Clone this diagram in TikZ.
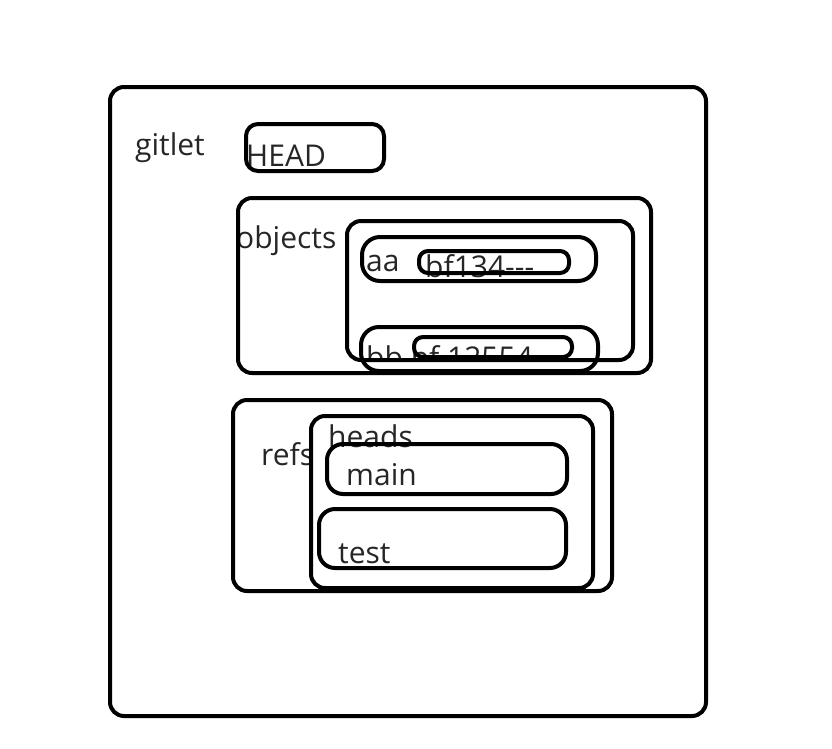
\documentclass[tikz,border=0pt]{standalone}
\usepackage{fontspec}
\setmainfont{Open Sans}
\begin{document}
\begin{tikzpicture}[x=1pt,y=-1pt,
  box/.style={draw=black,line width=4pt,rounded corners=#1,inner sep=0pt},
  box/.default=14pt,
  lbl/.style={anchor=base west,inner sep=0pt,text=black!85,font=\fontsize{30}{36}\selectfont}]
\useasboundingbox (0,0) rectangle (832,748);
% texts
\node[lbl] (tgitlet) at (135,155) {gitlet};
\node[lbl] (thead) at (246,166) {HEAD};
\node[lbl] (tobjects) at (236,248) {objects};
\node[lbl] (taa) at (366,271) {aa};
\node[lbl] (tbf) at (425,277) {bf134{-}{-}{-}};
\begin{scope}
\clip (350,320) rectangle (620,360);
\node[lbl] (tbb) at (366,368) {bb bf 12554{-}{-}};
\end{scope}
\node[lbl] (trefs) at (261,465) {refs};
\node[lbl] (theads) at (328,447) {heads};
\node[lbl] (tmain) at (346,485) {main};
\node[lbl] (ttest) at (338,563) {test};
% boxes
\draw[box] (110,87) rectangle (706,716);
\draw[box=12pt] (246,124) rectangle (384,171);
\draw[box] (238,198) rectangle (651,373);
\draw[box] (347,221) rectangle (633,360);
\draw[box=18pt] (362,237) rectangle (596,281);
\draw[box=9pt] (419,251) rectangle (569,273);
\draw[box=18pt] (361,327) rectangle (598,371);
\draw[box=9pt] (414,337) rectangle (572,357);
\draw[box] (233,400) rectangle (612,591);
\draw[box] (311,416) rectangle (593,588);
\draw[box=16pt] (327,444) rectangle (567,494);
\draw[box=16pt] (319,509) rectangle (566,568);
\end{tikzpicture}
\end{document}
